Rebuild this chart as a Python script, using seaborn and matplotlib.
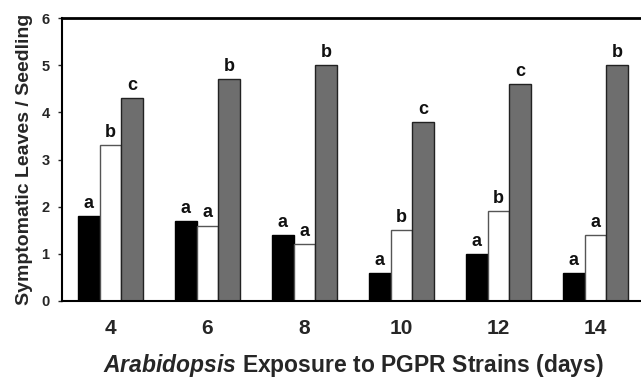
import matplotlib
matplotlib.use("Agg")
import matplotlib.pyplot as plt
import seaborn as sns
import pandas as pd
import numpy as np

days = ["4", "6", "8", "10", "12", "14"]
strains = ["S1", "S2", "S3"]
black_vals = [1.8, 1.7, 1.4, 0.6, 1.0, 0.6]
white_vals = [3.3, 1.6, 1.2, 1.5, 1.9, 1.4]
gray_vals = [4.3, 4.7, 5.0, 3.8, 4.6, 5.0]
black_letters = ["a", "a", "a", "a", "a", "a"]
white_letters = ["b", "a", "a", "b", "b", "a"]
gray_letters = ["c", "b", "b", "c", "c", "b"]
yticks = [0, 1, 2, 3, 4, 5, 6]

df = pd.DataFrame({
    "day": days * 3,
    "strain": [strains[0]] * 6 + [strains[1]] * 6 + [strains[2]] * 6,
    "value": black_vals + white_vals + gray_vals,
})

sns.set_theme(style="white")
plt.rcParams["font.family"] = ["Liberation Sans", "DejaVu Sans"]
plt.rcParams["mathtext.fontset"] = "custom"
plt.rcParams["mathtext.bfit"] = "Liberation Sans:italic:bold"
plt.rcParams["mathtext.rm"] = "Liberation Sans:bold"

fig = plt.figure(figsize=(6.41, 3.80), dpi=100)
ax = fig.add_axes([62 / 641, 1 - 301 / 380, 582 / 641, 283 / 380])

colors = ["#000000", "#ffffff", "#6e6e6e"]
sns.barplot(data=df, x="day", y="value", hue="strain", order=days,
            hue_order=strains, palette=colors, width=0.68, saturation=1,
            legend=False, ax=ax, errorbar=None)

edgecols = ["#000000", "#555555", "#222222"]
letters_all = [black_letters, white_letters, gray_letters]
bars = [p for p in ax.patches]
for i, p in enumerate(bars[:18]):
    s = i // 6
    p.set_edgecolor(edgecols[s])
    p.set_linewidth(1.0)
    x = p.get_x() + p.get_width() / 2
    h = p.get_height()
    ax.annotate(letters_all[s][i % 6], (x, h), xytext=(0, 3),
                textcoords="offset points", ha="center", va="bottom",
                fontsize=13, fontweight="bold", color="#111111")

ax.set_ylim(0, 6)
ax.set_xlim(-0.5, 5.5)
ax.set_yticks(yticks)
ax.set_yticklabels([str(t) for t in yticks], fontsize=10.5, fontweight="bold")
ax.set_xticks(range(len(days)))
ax.set_xticklabels(days, fontsize=15, fontweight="bold")
ax.set_xticks(np.arange(-0.5, 6, 1), minor=True)
ax.tick_params(axis="x", which="major", length=0, pad=13)
ax.tick_params(axis="x", which="minor", length=3, width=0.8, direction="out", color="#555555")
ax.tick_params(axis="y", length=3, width=1, direction="out", pad=6, left=True)

for side in ["left", "bottom", "top"]:
    ax.spines[side].set_visible(True)
    ax.spines[side].set_color("black")
ax.spines["top"].set_linewidth(2.0)
ax.spines["left"].set_linewidth(1.5)
ax.spines["bottom"].set_linewidth(1.5)
ax.spines["right"].set_visible(False)

ax.set_ylabel("Symptomatic Leaves / Seedling", fontsize=14, fontweight="bold", labelpad=6)
ax.set_xlabel(r"$\mathbfit{Arabidopsis}$" + " Exposure to PGPR Strains (days)",
              fontsize=16.5, fontweight="bold", labelpad=10)

fig.savefig("out.png", dpi=100)
